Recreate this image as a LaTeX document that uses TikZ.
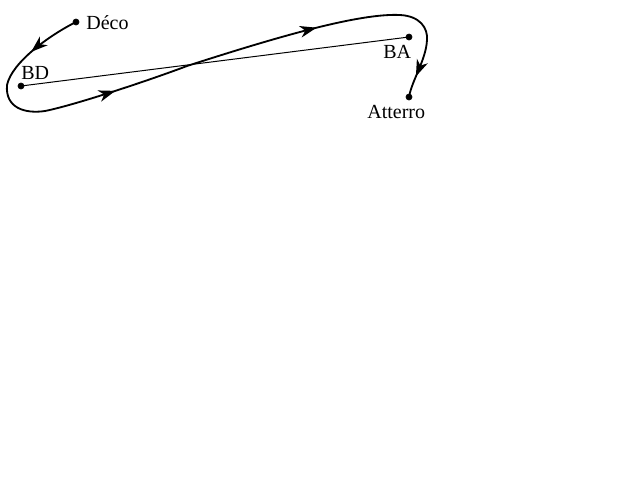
\documentclass[tikz,border=0pt]{standalone}
\usepackage{fontspec}
\setmainfont{Liberation Serif}
\usetikzlibrary{arrows.meta,decorations.markings}

\begin{document}
\begin{tikzpicture}[x=0.6pt,y=-0.6pt,
    flight/.style={line width=1.1pt,
      postaction={decorate},
      decoration={markings,
        mark=at position 0.087 with {\arrow{Stealth[length=10pt,width=7pt,inset=3pt]}},
        mark=at position 0.36 with {\arrow{Stealth[length=10pt,width=7pt,inset=3pt]}},
        mark=at position 0.70 with {\arrow{Stealth[length=10pt,width=7pt,inset=3pt]}},
        mark=at position 0.965 with {\arrow{Stealth[length=10pt,width=7pt,inset=3pt]}}}},
    tag/.style={inner sep=0pt,anchor=base west,font=\fontsize{12}{14}\selectfont}]
    \useasboundingbox (0,0) rectangle (640,480);

            \coordinate (deco) at (76,22);
            \coordinate (bd) at (21,86);
            \coordinate (ba) at (409,37);
            \coordinate (atterro) at (409,97);

            \draw [line width=0.6pt] (bd) -- (ba);

            \draw [flight] (deco) .. controls (50,35) and (12,62) .. (7,85)
                .. controls (5,108) and (25,114) .. (45,111)
                .. controls (75,105) and (150,80) .. (187,66)
                .. controls (280,36) and (360,13) .. (400,15)
                .. controls (420,16) and (428,28) .. (427,40)
                .. controls (426,60) and (412,80) .. (atterro);

            \draw [fill = black] (deco) circle(1.8pt);
            \draw [fill = black] (bd) circle(1.8pt);
            \draw [fill = black] (ba) circle(1.8pt);
            \draw [fill = black] (atterro) circle(1.8pt);

            \node [tag] (decotext) at (86,29) {Déco};
            \node [tag] (bdtext) at (21,79) {BD};
            \node [tag] (batext) at (383,58) {BA};
            \node [tag] (atterrotext) at (367,118) {Atterro};
     \end{tikzpicture}
\end{document}
